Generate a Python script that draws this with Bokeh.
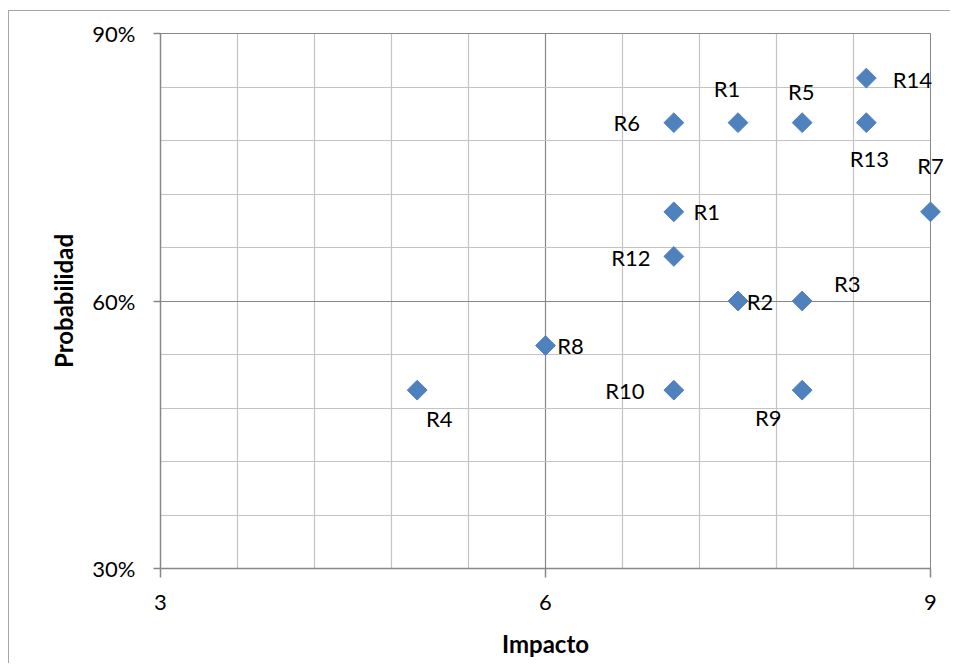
from bokeh.plotting import figure
from bokeh.models import ColumnDataSource, Range1d, FixedTicker, NumeralTickFormatter
from bokeh.core.properties import value
from bokeh.embed import file_html
from bokeh.resources import INLINE
import math

# ---- data ----
riesgos = ["R1", "R1", "R2", "R3", "R4", "R5", "R6", "R7", "R8", "R9", "R10", "R12", "R13", "R14"]
impacto = [7, 7.5, 7.5, 8, 5, 8, 7, 9, 6, 8, 7, 7, 8.5, 8.5]
probabilidad = [0.70, 0.80, 0.60, 0.60, 0.50, 0.80, 0.80, 0.70, 0.55, 0.50, 0.50, 0.65, 0.80, 0.85]
x_ticks = [3, 6, 9]
y_ticks = [0.30, 0.60, 0.90]

# ---- label placement (screen px, styling only) ----
label_dx = [33, -11, 22, 45, 22, -1, -47, 0, 25, -34, -49, -43, 3, 46]
label_dy = [0, -34, 0, -18, 28, -31, 0, -46, 0, 27, 0, 1, 36, 1]

FONT = "Lato"
BLUE = "#4F81BD"
MAJOR = "#878787"
MINOR = "#c3c3c3"

src = ColumnDataSource(dict(x=impacto, y=probabilidad, label=riesgos,
                            dx=label_dx, dy=label_dy))

p = figure(frame_width=770, frame_height=535,
           min_border_left=151, min_border_right=20, min_border_top=22, min_border_bottom=95,
           x_range=Range1d(3, 9), y_range=Range1d(0.30, 0.90),
           output_backend="svg", toolbar_location=None,
           background_fill_color="white", border_fill_color="white")

p.styles = {"margin-left": "8px", "margin-top": "10px",
            "border-left": "1px solid #a6a6a6", "border-top": "1px solid #a6a6a6"}

minor_x = [3 + 0.6 * i for i in range(11) if i % 5 != 0]
minor_y = [0.30 + 0.06 * i for i in range(11) if i % 5 != 0]
p.xaxis.ticker = FixedTicker(ticks=x_ticks, minor_ticks=minor_x)
p.yaxis.ticker = FixedTicker(ticks=y_ticks, minor_ticks=minor_y)
p.yaxis.formatter = NumeralTickFormatter(format="0%")

p.outline_line_color = MAJOR
for ax in (p.xaxis[0], p.yaxis[0]):
    ax.axis_line_color = MAJOR
    ax.axis_line_width = 1.5
    ax.major_tick_line_color = MAJOR
    ax.major_tick_line_width = 1.5
    ax.major_tick_in = 0
    ax.minor_tick_line_color = None
    ax.major_label_text_font = FONT
    ax.major_label_text_font_size = "22px"
    ax.major_label_text_color = "black"
    ax.axis_label_text_font = FONT
    ax.axis_label_text_font_size = "24px"
    ax.axis_label_text_font_style = "bold"
    ax.axis_label_text_color = "black"

p.xaxis.major_tick_out = 9
p.yaxis.major_tick_out = 7
p.xaxis.major_label_standoff = 17
p.yaxis.major_label_standoff = 18
p.xaxis.axis_label = "Impacto"
p.yaxis.axis_label = "Probabilidad"
p.xaxis.axis_label_standoff = 16
p.yaxis.axis_label_standoff = 11

for g in (p.xgrid[0], p.ygrid[0]):
    g.grid_line_color = MAJOR
    g.grid_line_width = 1.2
    g.minor_grid_line_color = MINOR
    g.minor_grid_line_width = 1.2

p.scatter("x", "y", source=src, marker="square", size=14, angle=math.pi / 4,
          fill_color=BLUE, line_color=BLUE, level="overlay")

p.text("x", "y", text="label", source=src, x_offset="dx", y_offset="dy",
       text_align="center", text_baseline="middle",
       text_font=value(FONT), text_font_size="22px", text_color="black",
       level="overlay")

open("out.html", "w").write(file_html(p, INLINE))
